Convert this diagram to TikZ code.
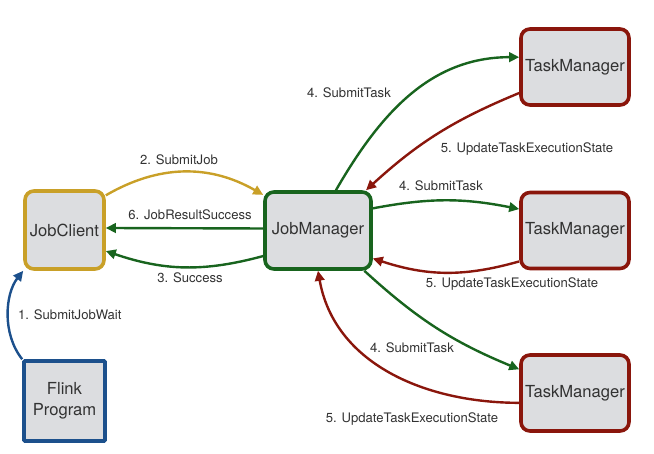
\documentclass[tikz,border=0pt]{standalone}
\usepackage{fontspec}
\setmainfont{TeX Gyre Heros}
\usetikzlibrary{arrows.meta}
\definecolor{cgold}{RGB}{201,160,40}
\definecolor{cgreen}{RGB}{24,100,30}
\definecolor{cred}{RGB}{138,22,12}
\definecolor{cblue}{RGB}{28,80,140}
\definecolor{cfill}{RGB}{220,221,224}
\definecolor{ctext}{RGB}{50,50,50}
\begin{document}
\begin{tikzpicture}[x=1pt,y=1pt,
  box/.style={draw, line width=3.6pt, fill=cfill, rounded corners=9pt,
    font=\fontsize{16.6}{20.5}\selectfont, text=ctext, align=center, inner sep=0pt},
  tmbox/.style={box, draw=cred, minimum width=108pt, minimum height=76pt},
  conn/.style={line width=2.4pt, -{Triangle[length=10pt,width=9.5pt]}},
  lbl/.style={font=\fontsize{13.1}{15}\selectfont, text=ctext, inner sep=0pt},
]
\useasboundingbox (0,0) rectangle (654,454);
\node[box, draw=cgold, minimum width=79pt, minimum height=78pt] (jc) at (64.5,224) {JobClient};
\node[box, draw=cgreen, minimum width=106pt, minimum height=77pt] (jm) at (318,223.5) {JobManager};
\node[box, draw=cblue, rounded corners=1pt, minimum width=81pt, minimum height=80pt] (fp) at (64.5,53) {Flink\\Program};
\node[tmbox] (tm1) at (575,387) {TaskManager};
\node[tmbox] (tm2) at (575,223.5) {TaskManager};
\node[tmbox] (tm3) at (575,61) {TaskManager};

\draw[conn, cblue] (fp.north west) .. controls (2,120) and (5,160) .. (jc.south west);
\draw[conn, cgold] (jc.40) to[bend left=30] (jm.147);
\draw[conn, cgreen] ([yshift=2pt]jm.west) -- ([yshift=2pt]jc.east);
\draw[conn, cgreen] (jm.205) to[bend left=17] (jc.-27);
\draw[conn, cgreen] (jm.66) to[out=60,in=180] (tm1.170);
\draw[conn, cred] (tm1.205) to[bend right=10] (jm.40);
\draw[conn, cgreen] (jm.22) to[bend left=11] (tm2.159);
\draw[conn, cred] (tm2.209) to[bend left=17] (jm.-27);
\draw[conn, cgreen] (jm.-41) to[bend right=10] (tm3.157);
\draw[conn, cred] (tm3.190) to[out=180,in=-80] (jm.south);

\node[lbl, anchor=west] (l1) at (18,139) {1. SubmitJobWait};
\node[lbl] (l2) at (179,294) {2. SubmitJob};
\node[lbl] (l6) at (190,239) {6. JobResultSuccess};
\node[lbl] (l3) at (190,176) {3. Success};
\node[lbl] (l4a) at (349,361) {4. SubmitTask};
\node[lbl] (l5a) at (527,305) {5. UpdateTaskExecutionState};
\node[lbl] (l4b) at (441,268) {4. SubmitTask};
\node[lbl] (l5b) at (512,170) {5. UpdateTaskExecutionState};
\node[lbl] (l4c) at (412,106) {4. SubmitTask};
\node[lbl] (l5c) at (412,35) {5. UpdateTaskExecutionState};
\end{tikzpicture}
\end{document}
